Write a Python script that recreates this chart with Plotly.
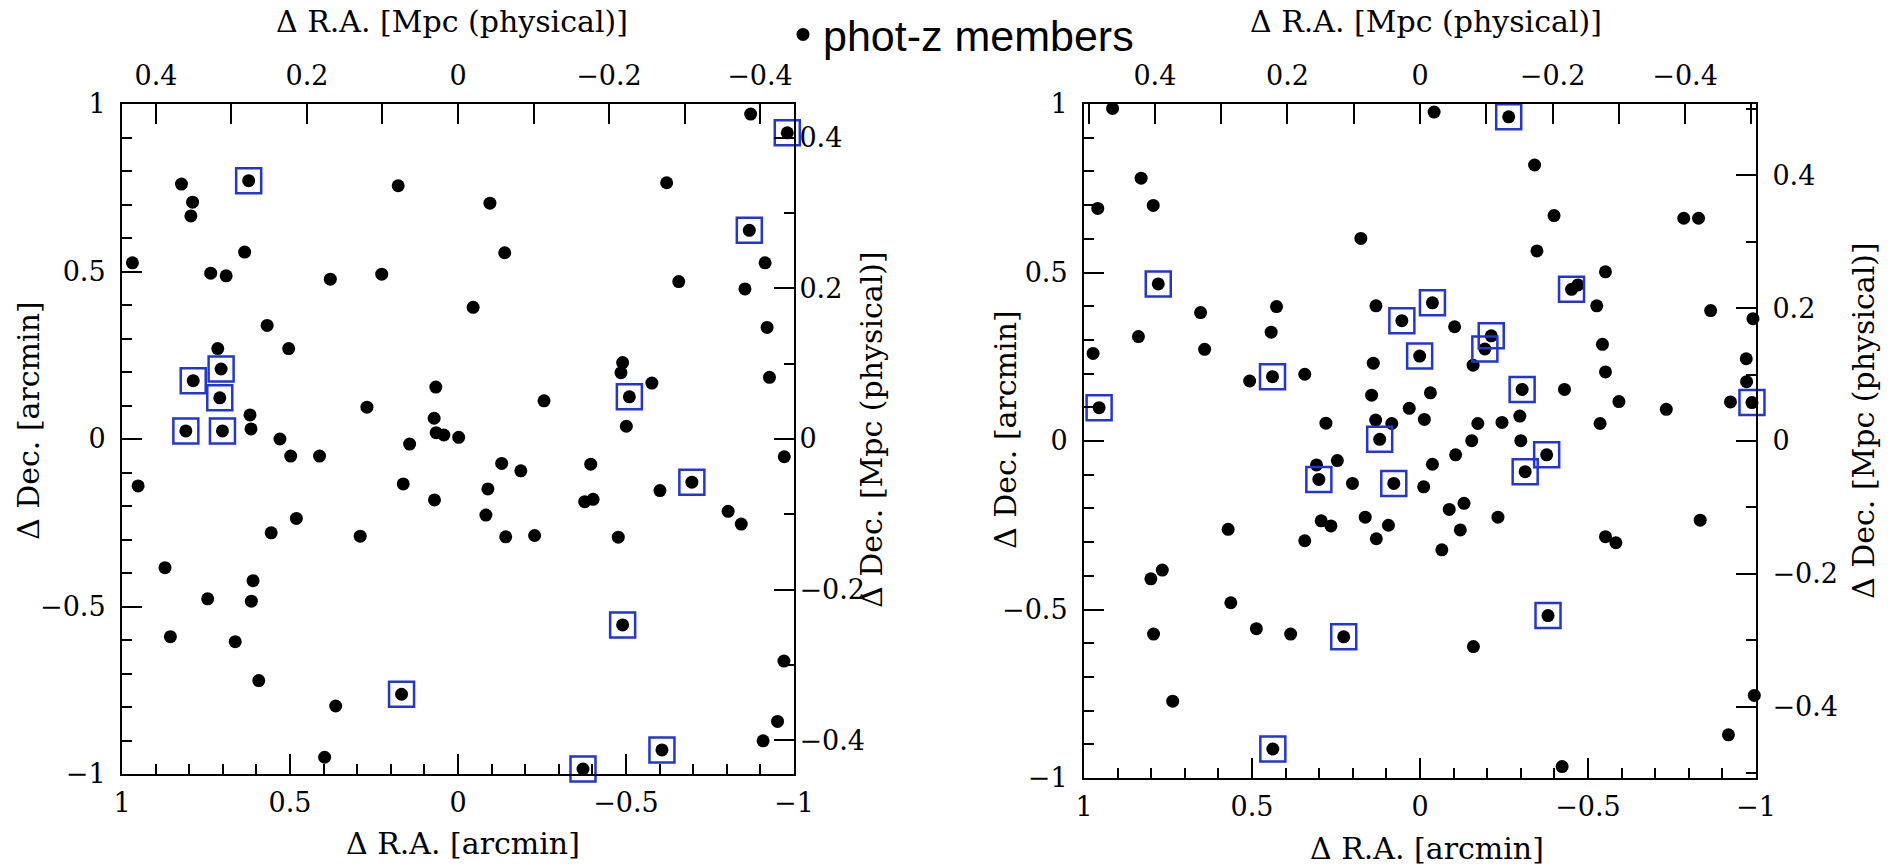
import plotly.graph_objects as go

W, H = 1901, 867

# ---------------- data: left cluster (arcmin offsets) ----------------
left_ra = [-0.871, -0.980, 0.823, 0.623, 0.178, 0.790, 0.795, -0.095, -0.621, -0.867,
           0.635, -0.139, 0.969, 0.736, 0.690, 0.380, 0.227, -0.914, -0.657, -0.854,
           -0.045, 0.568, -0.920, 0.504, 0.715, 0.705, 0.788, 0.709, -0.490, -0.485,
           -0.577, -0.510, -0.927, 0.066, -0.256, 0.271, 0.619, 0.071,
           0.810, 0.701, 0.616, 0.065, 0.042, -0.002, -0.501, 0.530, 0.144, 0.498,
           0.412, -0.971, -0.130, -0.395, -0.187, -0.696, 0.952, 0.163, -0.089, -0.601,
           0.070, -0.377, -0.402, -0.083, -0.804, -0.843, 0.481, 0.556, 0.291, -0.142,
           -0.228, -0.477, 0.872, 0.610, 0.745, 0.615, 0.856, 0.663, -0.490, -0.970,
           0.593, 0.168, 0.364, -0.951, -0.908, -0.607, 0.397, -0.372]
left_dec = [0.970, 0.914, 0.761, 0.771, 0.756, 0.707, 0.666, 0.704, 0.765, 0.623,
            0.558, 0.556, 0.526, 0.495, 0.487, 0.477, 0.492, 0.526, 0.470, 0.448,
            0.393, 0.339, 0.333, 0.270, 0.270, 0.209, 0.174, 0.123, 0.228, 0.198,
            0.167, 0.126, 0.184, 0.155, 0.114, 0.095, 0.072, 0.062,
            0.024, 0.024, 0.030, 0.019, 0.012, 0.005, 0.038, 0.000, -0.015, -0.051,
            -0.051, -0.053, -0.073, -0.075, -0.095, -0.129, -0.140, -0.134, -0.149, -0.154,
            -0.182, -0.187, -0.180, -0.227, -0.216, -0.254, -0.237, -0.280, -0.290, -0.292,
            -0.288, -0.293, -0.384, -0.423, -0.477, -0.484, -0.590, -0.605, -0.555, -0.663,
            -0.721, -0.762, -0.797, -0.843, -0.901, -0.928, -0.950, -0.985]
left_spec = [0, 1, 0, 1, 0, 0, 0, 0, 0, 1,
             0, 0, 0, 0, 0, 0, 0, 0, 0, 0,
             0, 0, 0, 0, 0, 1, 1, 1, 0, 0,
             0, 1, 0, 0, 0, 0, 0, 0,
             1, 1, 0, 0, 0, 0, 0, 0, 0, 0,
             0, 0, 0, 0, 0, 1, 0, 0, 0, 0,
             0, 0, 0, 0, 0, 0, 0, 0, 0, 0,
             0, 0, 0, 0, 0, 0, 0, 0, 1, 0,
             0, 1, 0, 0, 0, 1, 0, 1]

# ---------------- data: right cluster (arcmin offsets) ----------------
right_ra = [0.915, -0.042, -0.264, -0.341, 0.830, 0.959, 0.794, -0.399, -0.785, -0.829,
            0.176, -0.348, -0.552, 0.779, -0.451, -0.470, -0.526, -0.865, -0.991, 0.427,
            0.131, -0.037, 0.054, 0.653, -0.103, -0.212, -0.193, 0.838, 0.443, 0.973,
            0.641, -0.543, -0.971, 0.001, 0.139, -0.158, -0.552, -0.972, 0.439, 0.507,
            0.343, -0.304, -0.430, -0.031, 0.144, -0.592, -0.733, -0.924, -0.988, 0.955,
            0.032, -0.297, -0.013, 0.132, 0.280, 0.084, -0.172, -0.244, -0.536,
            0.120, -0.154, -0.300, -0.377, -0.106, 0.246, 0.308, -0.037, 0.301, -0.313,
            0.078, 0.201, -0.011, -0.131, -0.087, 0.163, -0.232, 0.294, 0.265, 0.094,
            -0.120, 0.571, 0.130, 0.343, -0.065, -0.552, -0.583, -0.834, 0.767, 0.801,
            0.563, 0.793, 0.487, 0.385, 0.227, -0.159, -0.381, 0.736, -0.995, -0.918,
            0.438, -0.423]
right_dec = [0.987, 0.976, 0.962, 0.819, 0.780, 0.690, 0.699, 0.669, 0.661, 0.661,
             0.601, 0.564, 0.502, 0.466, 0.450, 0.463, 0.401, 0.387, 0.363, 0.399,
             0.401, 0.410, 0.357, 0.381, 0.339, 0.312, 0.273, 0.310, 0.323, 0.260,
             0.272, 0.287, 0.244, 0.252, 0.231, 0.225, 0.205, 0.176, 0.191, 0.178,
             0.198, 0.153, 0.153, 0.143, 0.136, 0.117, 0.094, 0.116, 0.114, 0.099,
             0.097, 0.074, 0.064, 0.062, 0.053, 0.052, 0.052, 0.055, 0.052,
             0.005, 0.001, 0.001, -0.041, -0.041, -0.058, -0.071, -0.069, -0.114, -0.091,
             -0.126, -0.126, -0.136, -0.185, -0.203, -0.226, -0.226, -0.237, -0.252, -0.250,
             -0.264, -0.262, -0.290, -0.296, -0.323, -0.284, -0.302, -0.235, -0.383, -0.409,
             -0.480, -0.573, -0.557, -0.573, -0.581, -0.610, -0.518, -0.772, -0.755, -0.872,
             -0.914, -0.966]
right_spec = [0, 0, 1, 0, 0, 0, 0, 0, 0, 0,
              0, 0, 0, 1, 1, 0, 0, 0, 0, 0,
              0, 1, 1, 0, 0, 1, 1, 0, 0, 0,
              0, 0, 0, 1, 0, 0, 0, 0, 1, 0,
              0, 1, 0, 0, 0, 0, 0, 0, 1, 1,
              0, 0, 0, 0, 0, 0, 0, 0, 0,
              1, 0, 0, 1, 0, 0, 0, 0, 1, 1,
              1, 0, 0, 0, 0, 0, 0, 0, 0, 0,
              0, 0, 0, 0, 0, 0, 0, 0, 0, 0,
              0, 0, 0, 0, 1, 0, 1, 0, 0, 0,
              1, 0]

# physical scale (Mpc per arcmin) of each cluster
left_mpc_per_arcmin = 0.445
right_mpc_per_arcmin = 0.507

arcmin_ticks = [1, 0.5, 0, -0.5, -1]
mpc_ticks = [0.4, 0.2, 0, -0.2, -0.4]

legend_label = "phot-z members"

# ---------------- figure ----------------
SERIF = "DejaVu Serif"
BLUE = "#2336d4"

fig = go.Figure()


def px_x(p):
    return p / W


def px_y(p):
    return 1 - p / H


def boxed(xs, ys, flags):
    return ([x for x, f in zip(xs, flags) if f], [y for y, f in zip(ys, flags) if f])


for i, (ra, dec, spec) in enumerate([(left_ra, left_dec, left_spec),
                                      (right_ra, right_dec, right_spec)]):
    xa = "x" if i == 0 else "x2"
    ya = "y" if i == 0 else "y2"
    fig.add_trace(go.Scatter(
        x=ra, y=dec, mode="markers", xaxis=xa, yaxis=ya,
        name=legend_label, showlegend=(i == 0), cliponaxis=False,
        marker=dict(symbol="circle", size=13, color="black", line=dict(width=0)),
        hoverinfo="x+y"))
    bx, by = boxed(ra, dec, spec)
    fig.add_trace(go.Scatter(
        x=bx, y=by, mode="markers", xaxis=xa, yaxis=ya,
        showlegend=False, cliponaxis=False,
        marker=dict(symbol="square-open", size=25, color=BLUE,
                    line=dict(width=2.5, color=BLUE)),
        hoverinfo="skip"))

# empty traces to create the physical-unit (Mpc) overlay axes
fig.add_trace(go.Scatter(x=[], y=[], xaxis="x3", yaxis="y3", showlegend=False))
fig.add_trace(go.Scatter(x=[], y=[], xaxis="x4", yaxis="y4", showlegend=False))

tickfont = dict(family=SERIF, size=27, color="black")

common = dict(showgrid=False, zeroline=False, showline=True, linewidth=2,
              linecolor="black", ticks="inside", ticklen=20, tickwidth=1.5,
              tickcolor="black", tickfont=tickfont, automargin=False)

minor_arc = dict(dtick=0.1, ticks="inside", ticklen=10, tickwidth=1.5, tickcolor="black")
minor_mpc_top = dict(dtick=0.1, ticks="inside", ticklen=20, tickwidth=1.5, tickcolor="black")
minor_mpc_side = dict(dtick=0.1, ticks="inside", ticklen=10, tickwidth=1.5, tickcolor="black")

panels = [
    dict(x0=122, x1=794, y0=104, y1=774, scale=left_mpc_per_arcmin, rstand=-2),
    dict(x0=1084, x1=1756, y0=104, y1=778, scale=right_mpc_per_arcmin, rstand=9),
]

for i, p in enumerate(panels):
    sx = "" if i == 0 else "2"
    ox = "3" if i == 0 else "4"
    xdom = [px_x(p["x0"]), px_x(p["x1"])]
    ydom = [px_y(p["y1"]), px_y(p["y0"])]
    fig.layout["xaxis" + sx] = dict(
        common, domain=xdom, anchor="y" + sx, range=[1, -1], side="bottom",
        tickvals=arcmin_ticks, minor=minor_arc, mirror=True, ticklabelstandoff=4)
    fig.layout["yaxis" + sx] = dict(
        common, domain=ydom, anchor="x" + sx, range=[-1, 1], side="left",
        tickvals=arcmin_ticks, minor=minor_arc, mirror=True, ticklabelstandoff=9)
    s = p["scale"]
    fig.layout["xaxis" + ox] = dict(
        common, overlaying="x" + sx, anchor="y" + sx, side="top",
        range=[s, -s], tickvals=mpc_ticks, minor=minor_mpc_top, ticklabelstandoff=6)
    fig.layout["yaxis" + ox] = dict(
        common, overlaying="y" + sx, anchor="x" + sx, side="right",
        range=[-s, s], tickvals=mpc_ticks, minor=minor_mpc_side,
        ticklabelstandoff=p["rstand"])

title_font = dict(family=SERIF, size=30, color="black")
annotations = [
    # left panel
    dict(text="Δ R.A. [arcmin]", x=px_x(463), y=px_y(843)),
    dict(text="Δ R.A. [Mpc (physical)]", x=px_x(452), y=px_y(21)),
    dict(text="Δ Dec. [arcmin]", x=px_x(28), y=px_y(421), textangle=-90),
    dict(text="Δ Dec. [Mpc (physical)]", x=px_x(871), y=px_y(430), textangle=-90),
    # right panel
    dict(text="Δ R.A. [arcmin]", x=px_x(1427), y=px_y(848)),
    dict(text="Δ R.A. [Mpc (physical)]", x=px_x(1426), y=px_y(21)),
    dict(text="Δ Dec. [arcmin]", x=px_x(1005), y=px_y(430), textangle=-90),
    dict(text="Δ Dec. [Mpc (physical)]", x=px_x(1863), y=px_y(421), textangle=-90),
]
for a in annotations:
    a.update(xref="paper", yref="paper", showarrow=False, font=title_font,
             xanchor="center", yanchor="middle")

fig.update_layout(
    width=W, height=H, autosize=False,
    margin=dict(l=0, r=0, t=0, b=0, pad=0, autoexpand=False),
    paper_bgcolor="white", plot_bgcolor="white",
    annotations=annotations,
    showlegend=True,
    legend=dict(x=px_x(783), y=1.0, xanchor="left", yanchor="top",
                font=dict(family="Liberation Sans", size=43, color="black"),
                bgcolor="rgba(0,0,0,0)", borderwidth=0, itemsizing="trace"),
)

# remove the default page margin so the figure fills the window exactly
fig.write_html("out.html", config={"displayModeBar": False},
               post_script="document.body.style.margin='0px';")
